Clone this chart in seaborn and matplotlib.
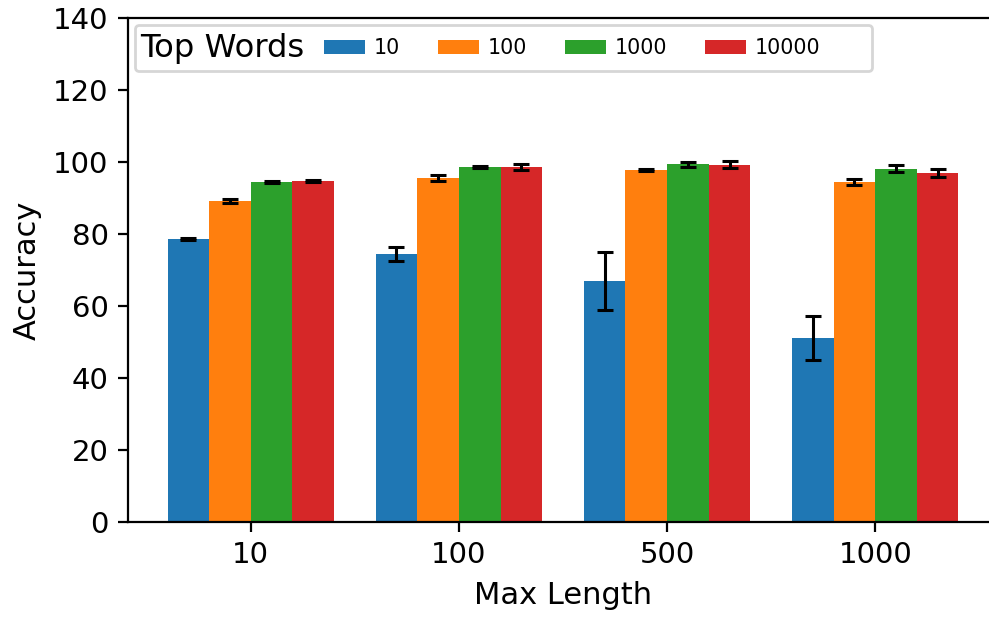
"""
Accuracy by max sequence length and vocabulary size (top words)
"""
import matplotlib
matplotlib.use('Agg')  # Use non-interactive backend
import matplotlib.pyplot as plt
from matplotlib.offsetbox import HPacker
import seaborn as sns
import numpy as np
import pandas as pd

# Data (mean accuracy and spread per top-words setting, one value per max length)
max_lengths = ['10', '100', '500', '1000']
top_words = ['10', '100', '1000', '10000']

acc_top10 = [78.6, 74.4, 66.9, 51.1]
acc_top100 = [89.2, 95.6, 97.8, 94.4]
acc_top1000 = [94.4, 98.6, 99.4, 98.1]
acc_top10000 = [94.7, 98.6, 99.2, 96.9]

err_top10 = [0.2, 1.9, 8.1, 6.0]
err_top100 = [0.6, 0.8, 0.3, 0.8]
err_top1000 = [0.2, 0.2, 0.7, 1.0]
err_top10000 = [0.2, 0.9, 1.0, 1.2]

accs = [acc_top10, acc_top100, acc_top1000, acc_top10000]
errs = [err_top10, err_top100, err_top1000, err_top10000]

# Long-form table for seaborn
rows = []
for tw, acc in zip(top_words, accs):
    for ml, a in zip(max_lengths, acc):
        rows.append({'Max Length': ml, 'Accuracy': a, 'Top Words': tw})
df = pd.DataFrame(rows)

fig = plt.figure(figsize=(989 / 200, 617 / 200), dpi=200)
ax = fig.add_axes([128 / 989, 95 / 617, 870 / 989, 504 / 617])

sns.barplot(data=df, x='Max Length', y='Accuracy', hue='Top Words',
            order=max_lengths, hue_order=top_words, palette='tab10',
            saturation=1, errorbar=None, linewidth=0, ax=ax)

# Error bars on top of each bar
for container, err in zip(ax.containers, errs):
    xs = [p.get_x() + p.get_width() / 2 for p in container.patches]
    ys = [p.get_height() for p in container.patches]
    ax.errorbar(xs, ys, yerr=err, fmt='none', ecolor='black',
                elinewidth=1.1, capsize=2.8, capthick=1.1)

ax.set_ylim(0, 140)
ax.set_yticks(np.arange(0, 141, 20))
ax.tick_params(labelsize=10.5)
ax.set_xlabel('Max Length', fontsize=11)
ax.set_ylabel('Accuracy', fontsize=11)

# Legend with the title placed inline, left of the entries
old = ax.get_legend()
handles = old.legend_handles
labels = [t.get_text() for t in old.get_texts()]
leg = ax.legend(handles, labels, ncol=4, title='Top Words', loc='upper left',
                fontsize=7.4, title_fontsize=11.6, borderaxespad=0.35,
                borderpad=0.24, handlelength=2.0, handletextpad=0.42,
                columnspacing=1.85)
leg._legend_box.__class__ = HPacker
leg._legend_box.sep = 7
# fixed box size in pixels (frame is ~737 x 46 px)
leg._legend_box.width = 727
leg._legend_box.height = 36

plt.savefig('out.png', dpi=200)
plt.close()
